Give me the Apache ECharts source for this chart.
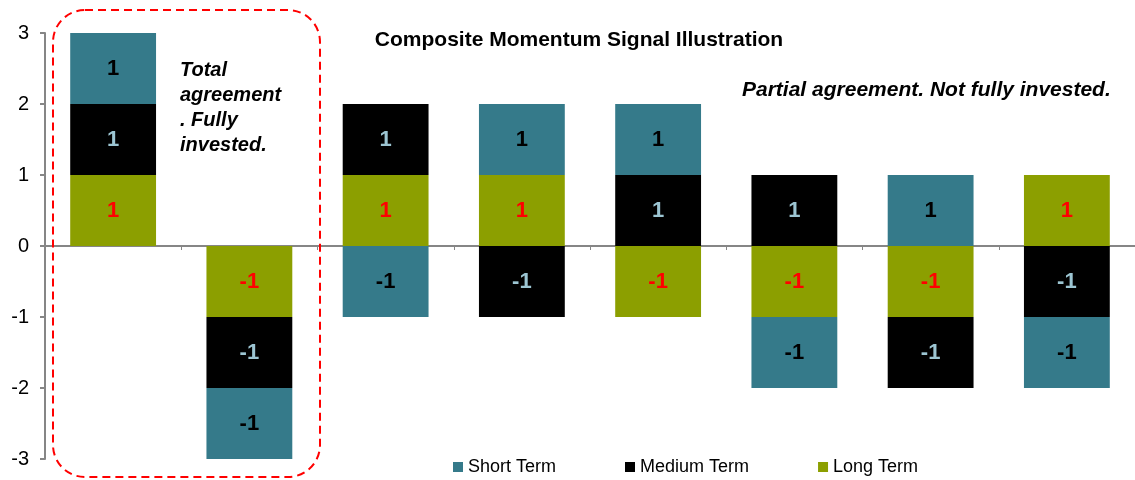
<!DOCTYPE html>
<html>
<head>
<meta charset="utf-8">
<script src="https://cdn.jsdelivr.net/npm/echarts@6/dist/echarts.min.js"></script>
<style>
  html, body { margin: 0; padding: 0; background: #fff; }
  #chart { width: 1135px; height: 480px; }
</style>
</head>
<body>
<div id="chart"></div>
<script>
// 数据
var categories = ['A', 'B', 'C', 'D', 'E', 'F', 'G', 'H'];
var shortTerm  = [1, -1, -1, 1, 1, -1, 1, -1];
var mediumTerm = [1, -1, 1, -1, 1, 1, -1, -1];
var longTerm   = [1, -1, 1, 1, -1, -1, -1, 1];
var yTicks = [-3, -2, -1, 0, 1, 2, 3];

var FONT = '"Liberation Sans", Arial, sans-serif';

function barSeries(name, data, color, labelColor) {
    return {
        name: name,
        type: 'bar',
        stack: 'signal',
        data: data,
        barWidth: '63%',
        itemStyle: { color: color },
        label: {
            show: true,
            position: 'inside',
            formatter: '{c}',
            color: labelColor,
            fontFamily: FONT,
            fontWeight: 'bold',
            fontSize: 22
        }
    };
}

var chart = echarts.init(document.getElementById('chart'));
var option = {
    animation: false,
    backgroundColor: '#fff',
    title: {
        text: 'Composite Momentum Signal Illustration',
        left: 574,
        top: 25,
        textAlign: 'center',
        textStyle: { fontFamily: FONT, fontWeight: 'bold', fontSize: 21, color: '#000' }
    },
    legend: {
        data: ['Short Term', 'Medium Term', 'Long Term'],
        left: 448,
        top: 453,
        itemWidth: 10,
        itemHeight: 10,
        itemGap: 69,
        icon: 'rect',
        textStyle: { fontFamily: FONT, fontSize: 18, color: '#000' }
    },
    grid: { left: 45, right: 0, top: 33, bottom: 21, containLabel: false },
    xAxis: {
        type: 'category',
        data: categories,
        axisLine: { onZero: true, lineStyle: { color: '#868686', width: 2 } },
        axisTick: { show: true, length: 4, lineStyle: { color: '#868686', width: 1 } },
        axisLabel: { show: false },
        splitLine: { show: false }
    },
    yAxis: {
        type: 'value',
        min: yTicks[0],
        max: yTicks[yTicks.length - 1],
        interval: 1,
        axisLine: { show: true, lineStyle: { color: '#868686', width: 2 } },
        axisTick: { show: true, length: 5, lineStyle: { color: '#868686', width: 2 } },
        axisLabel: { fontFamily: FONT, fontSize: 20, color: '#000', margin: 16 },
        splitLine: { show: false }
    },
    series: [
        barSeries('Long Term', longTerm, '#8c9f00', '#ff0000'),
        barSeries('Medium Term', mediumTerm, '#000000', '#9cc5d2'),
        barSeries('Short Term', shortTerm, '#357a8a', '#000000')
    ],
    graphic: [
        {
            type: 'rect',
            shape: { x: 53, y: 10, width: 267, height: 467, r: 32 },
            style: { fill: 'none', stroke: '#ff0000', lineWidth: 2, lineDash: [8, 5] },
            z: 100
        },
        {
            type: 'text',
            left: 180,
            top: 58,
            style: {
                text: 'Total\nagreement\n. Fully\ninvested.',
                font: 'italic bold 20px ' + FONT,
                lineHeight: 25,
                fill: '#000'
            },
            z: 100
        },
        {
            type: 'text',
            left: 742,
            top: 80,
            style: {
                text: 'Partial agreement. Not fully invested.',
                font: 'italic bold 21px ' + FONT,
                fill: '#000'
            },
            z: 100
        }
    ]
};
chart.setOption(option);
</script>
</body>
</html>
